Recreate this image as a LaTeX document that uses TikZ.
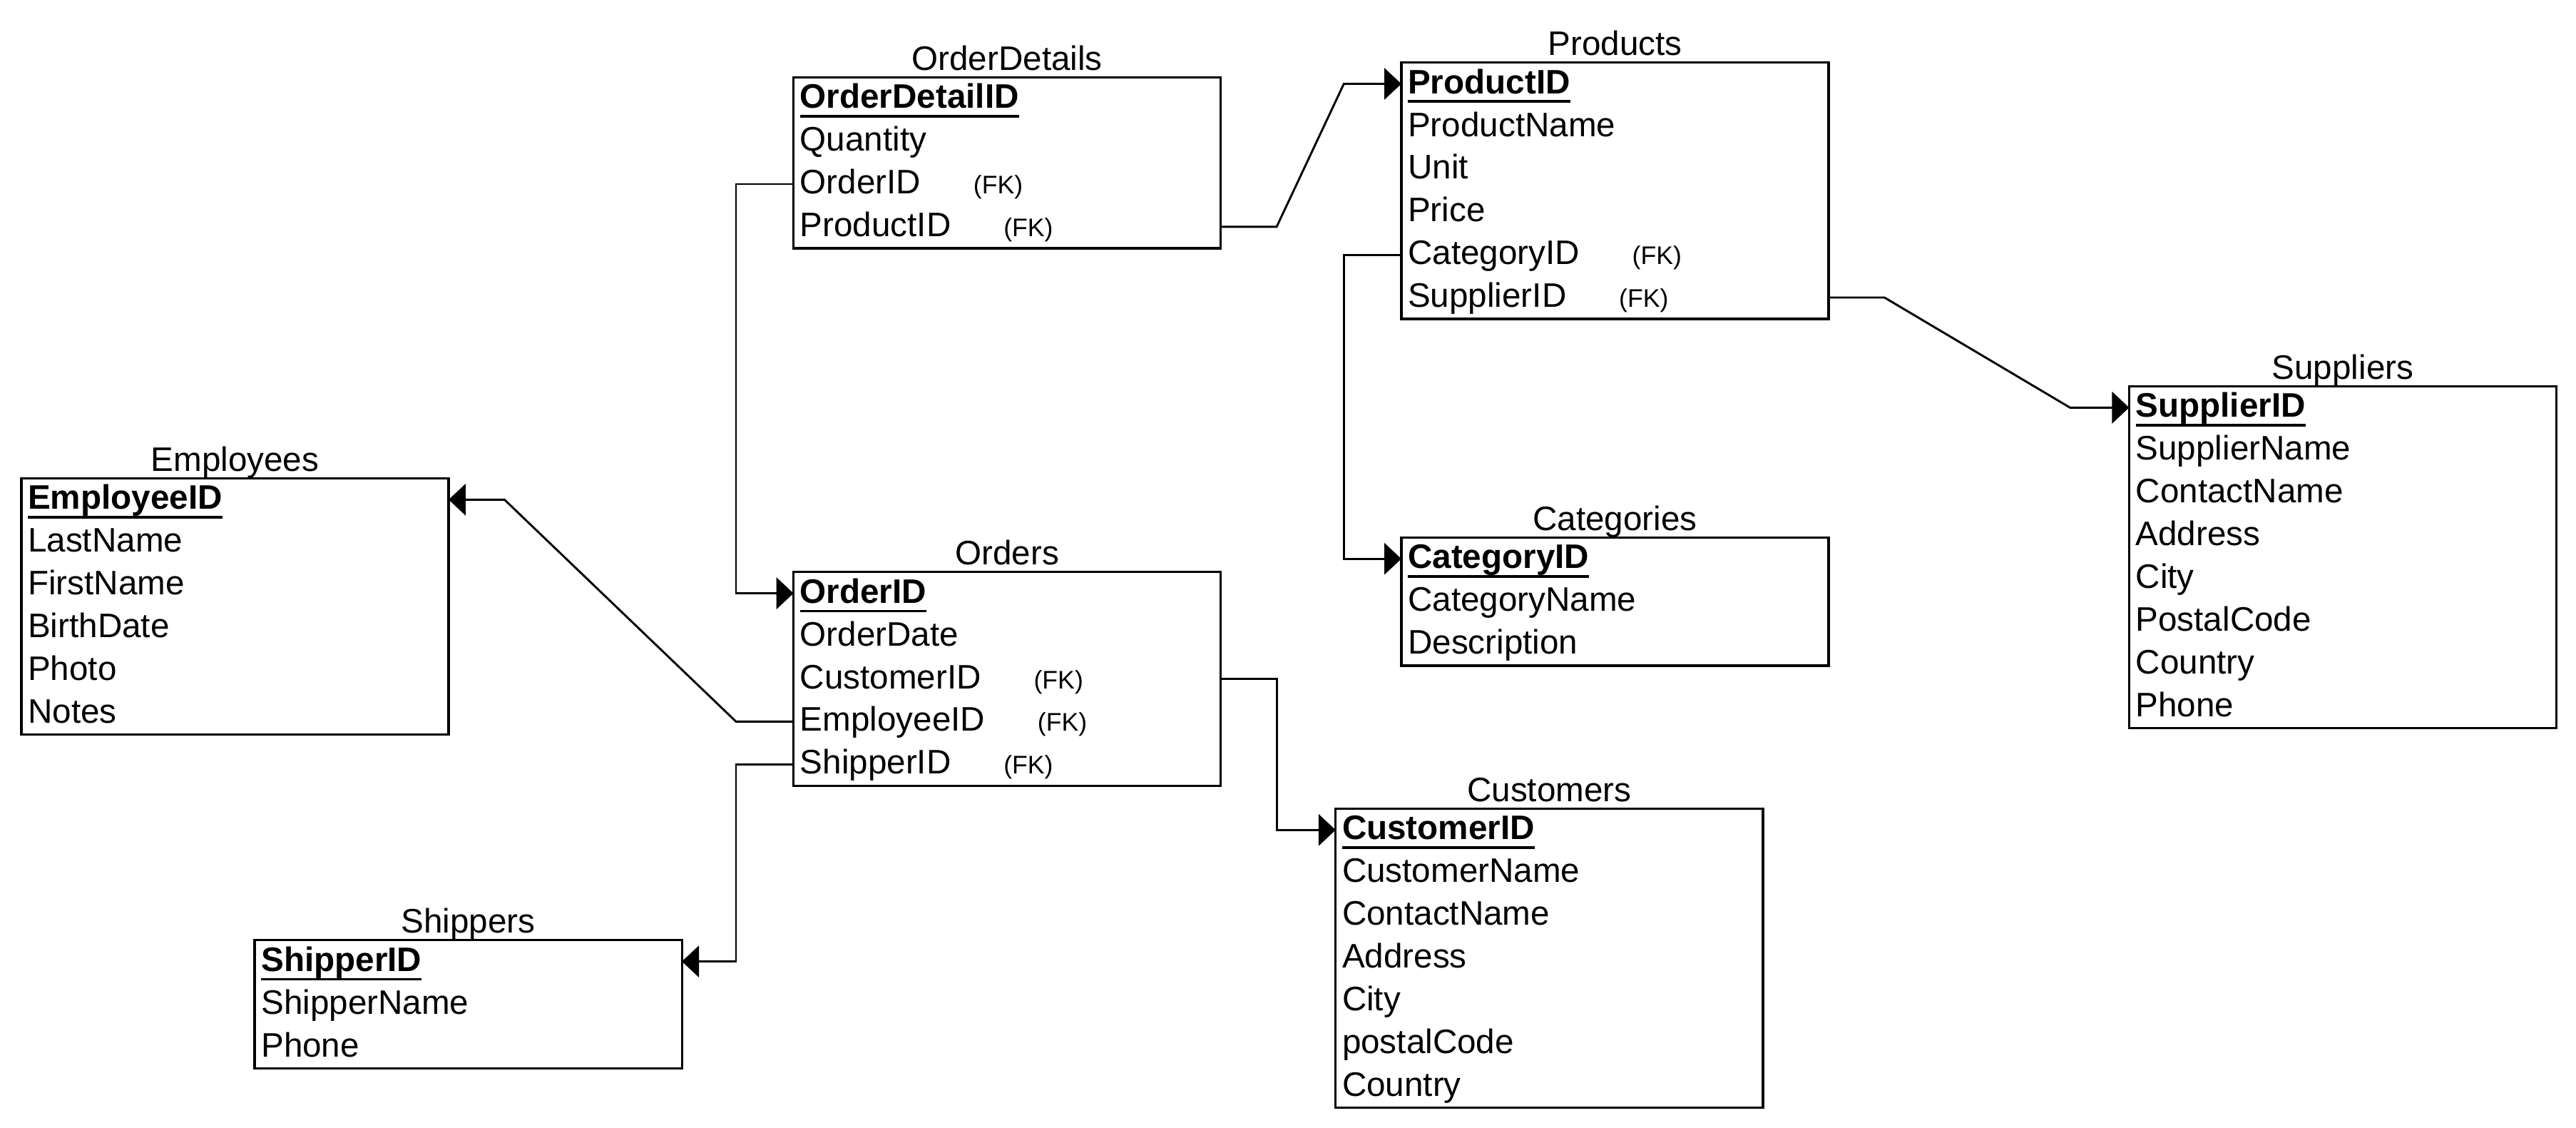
\documentclass[tikz,border=0pt]{standalone}
\usepackage{fontspec}
\setmainfont{Liberation Sans}
\usetikzlibrary{positioning,fit,calc,arrows.meta}
\newcommand{\pkey}[1]{\setbox0\hbox{\textbf{#1}}\rlap{\usebox0}\rule[-4pt]{\wd0}{1.1pt}}
\newcommand{\fkmark}{\hspace{0.8cm}{\fontsize{11}{13}\selectfont (FK)}}

\begin{document}
\begin{tikzpicture}[x=0.025cm, y=-0.025cm,
  font=\fontsize{14.7}{17}\selectfont,
  field/.style={anchor=west, inner xsep=0.1cm, inner ysep=0pt, outer sep=0pt, text width=6.3cm,
    align=left, minimum height=0.65cm, text height=12pt, text depth=3.6pt},
  tbl/.style={draw, line width=1pt, inner sep=0pt},
  title/.style={anchor=base, inner sep=0pt},
  fkline/.style={line width=0.9pt, -{Triangle[length=0.26cm, width=0.48cm]}}]
  \useasboundingbox (0,0) rectangle (1568,686);

  % OrderDetails
  \node[field] (od1) at (483,60) {\pkey{OrderDetailID}};
  \node[field, below=0pt of od1] (od2) {Quantity};
  \node[field, below=0pt of od2] (od3) {OrderID\fkmark};
  \node[field, below=0pt of od3] (od4) {ProductID\fkmark};
  \node[tbl, fit=(od1)(od4)] (od) {};
  \node[title] (odT) at ([yshift=0.09cm]od.north) {OrderDetails};

  % Products
  \node[field] (pr1) at (853,51) {\pkey{ProductID}};
  \node[field, below=0pt of pr1] (pr2) {ProductName};
  \node[field, below=0pt of pr2] (pr3) {Unit};
  \node[field, below=0pt of pr3] (pr4) {Price};
  \node[field, below=0pt of pr4] (pr5) {CategoryID\fkmark};
  \node[field, below=0pt of pr5] (pr6) {SupplierID\fkmark};
  \node[tbl, fit=(pr1)(pr6)] (pr) {};
  \node[title] (prT) at ([yshift=0.09cm]pr.north) {Products};

  % Suppliers
  \node[field] (su1) at (1296,248) {\pkey{SupplierID}};
  \node[field, below=0pt of su1] (su2) {SupplierName};
  \node[field, below=0pt of su2] (su3) {ContactName};
  \node[field, below=0pt of su3] (su4) {Address};
  \node[field, below=0pt of su4] (su5) {City};
  \node[field, below=0pt of su5] (su6) {PostalCode};
  \node[field, below=0pt of su6] (su7) {Country};
  \node[field, below=0pt of su7] (su8) {Phone};
  \node[tbl, fit=(su1)(su8)] (su) {};
  \node[title] (suT) at ([yshift=0.09cm]su.north) {Suppliers};

  % Employees
  \node[field] (em1) at (13,304) {\pkey{EmployeeID}};
  \node[field, below=0pt of em1] (em2) {LastName};
  \node[field, below=0pt of em2] (em3) {FirstName};
  \node[field, below=0pt of em3] (em4) {BirthDate};
  \node[field, below=0pt of em4] (em5) {Photo};
  \node[field, below=0pt of em5] (em6) {Notes};
  \node[tbl, fit=(em1)(em6)] (em) {};
  \node[title] (emT) at ([yshift=0.09cm]em.north) {Employees};

  % Orders
  \node[field] (ord1) at (483,361) {\pkey{OrderID}};
  \node[field, below=0pt of ord1] (ord2) {OrderDate};
  \node[field, below=0pt of ord2] (ord3) {CustomerID\fkmark};
  \node[field, below=0pt of ord3] (ord4) {EmployeeID\fkmark};
  \node[field, below=0pt of ord4] (ord5) {ShipperID\fkmark};
  \node[tbl, fit=(ord1)(ord5)] (ord) {};
  \node[title] (ordT) at ([yshift=0.09cm]ord.north) {Orders};

  % Categories
  \node[field] (ca1) at (853,340) {\pkey{CategoryID}};
  \node[field, below=0pt of ca1] (ca2) {CategoryName};
  \node[field, below=0pt of ca2] (ca3) {Description};
  \node[tbl, fit=(ca1)(ca3)] (ca) {};
  \node[title] (caT) at ([yshift=0.09cm]ca.north) {Categories};

  % Customers
  \node[field] (cu1) at (813,505) {\pkey{CustomerID}};
  \node[field, below=0pt of cu1] (cu2) {CustomerName};
  \node[field, below=0pt of cu2] (cu3) {ContactName};
  \node[field, below=0pt of cu3] (cu4) {Address};
  \node[field, below=0pt of cu4] (cu5) {City};
  \node[field, below=0pt of cu5] (cu6) {postalCode};
  \node[field, below=0pt of cu6] (cu7) {Country};
  \node[tbl, fit=(cu1)(cu7)] (cu) {};
  \node[title] (cuT) at ([yshift=0.09cm]cu.north) {Customers};

  % Shippers
  \node[field] (sh1) at (155,585) {\pkey{ShipperID}};
  \node[field, below=0pt of sh1] (sh2) {ShipperName};
  \node[field, below=0pt of sh2] (sh3) {Phone};
  \node[tbl, fit=(sh1)(sh3)] (sh) {};
  \node[title] (shT) at ([yshift=0.09cm]sh.north) {Shippers};

  % foreign keys
  \draw[fkline] (od3.west) -- ++(-35,0) |- (ord1.west);
  \draw[fkline] (od4.east) -- ++(34,0) -- ($(pr1.west)+(-35,0)$) -- (pr1.west);
  \draw[fkline] (pr5.west) -- ++(-35,0) |- (ca1.west);
  \draw[fkline] (pr6.east) -- ++(34,0) -- ($(su1.west)+(-36,0)$) -- (su1.west);
  \draw[fkline] (ord4.west) -- ++(-35,0) -- ($(em1.east)+(34,0)$) -- (em1.east);
  \draw[fkline] (ord5.west) -- ++(-35,0) |- (sh1.east);
  \draw[fkline] (ord3.east) -- ++(34,0) |- (cu1.west);
\end{tikzpicture}
\end{document}
